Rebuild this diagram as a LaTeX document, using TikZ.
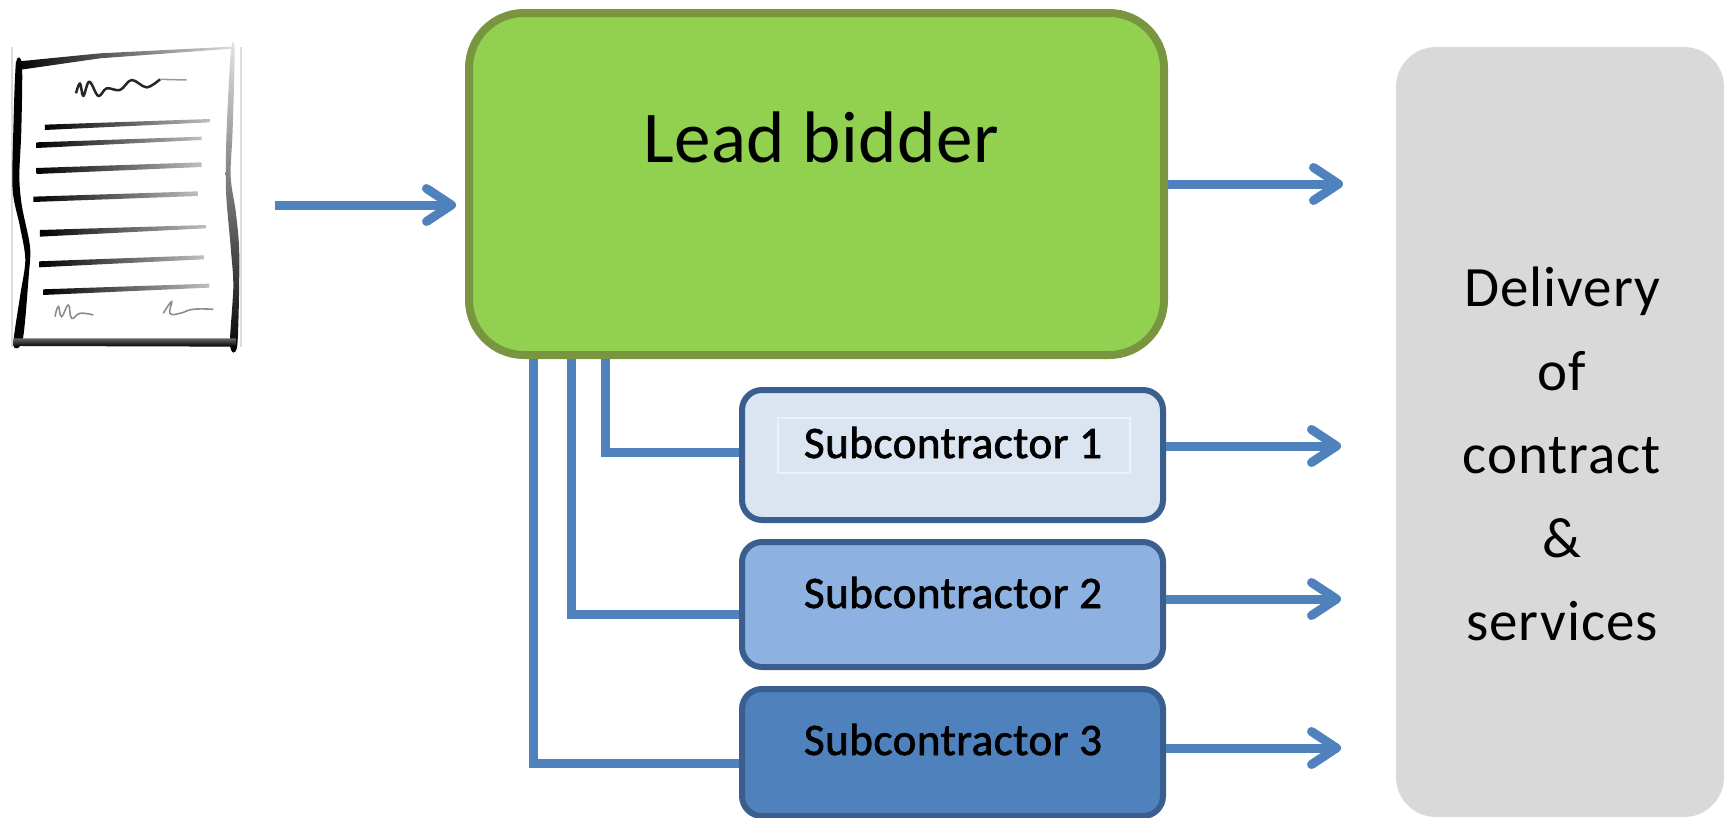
\documentclass[tikz,border=0pt]{standalone}
\usepackage{fontspec}
\setmainfont{Carlito}
\usetikzlibrary{arrows.meta}
\definecolor{arrowblue}{HTML}{4F81BD}
\definecolor{subedge}{HTML}{3A5F8F}
\definecolor{leadedge}{HTML}{7A9540}
\definecolor{leadfill}{HTML}{92D050}
\definecolor{greybox}{HTML}{D9D9D9}
\newfontfamily\subfont[FakeBold=1.6,LetterSpace=1.2]{Carlito}
\tikzset{
  x=1pt,y=-1pt,
  leadbox/.style={draw=leadedge,fill=leadfill,line width=8pt,rounded corners=55pt,minimum width=695pt,minimum height=342pt,inner sep=0pt},
  subbox/.style={draw=subedge,line width=6pt,rounded corners=20pt,minimum width=421pt,inner sep=0pt},
  delivbox/.style={fill=greybox,rounded corners=40pt,minimum width=328pt,minimum height=770pt,inner sep=0pt},
  subtext/.style={font=\fontsize{45}{45}\selectfont\subfont,anchor=base,inner sep=0pt},
  flow/.style={draw=arrowblue,line width=9pt,-{Straight Barb[length=25pt,width=33pt,line width=9pt,round=false]}},
  link/.style={draw=arrowblue,line width=9pt},
  inkfade/.style={left color=black,right color=black!25},
}
\begin{document}
\begin{tikzpicture}
\useasboundingbox (0,0) rectangle (1724,817);
% boxes
\node[delivbox] (deliv) at (1560,432) {};
\node[leadbox] (lead) at (816.5,184) {};
\node[subbox,fill={rgb,255:red,219;green,229;blue,241},minimum height=130pt] (sub1) at (952.5,455) {};
\node[subbox,fill={rgb,255:red,141;green,177;blue,225},minimum height=125pt] (sub2) at (952.5,604.5) {};
\node[subbox,fill=arrowblue,minimum height=127pt] (sub3) at (952.5,752.5) {};
\node[draw={rgb,255:red,234;green,241;blue,250},line width=2pt,minimum width=352pt,minimum height=55pt,inner sep=0pt] (frame1) at (954,445.5) {};
% texts
\node[anchor=base,inner sep=0pt,font=\fontsize{73}{73}\selectfont\addfontfeature{LetterSpace=0.8}] (leadtext) at (821,162) {Lead bidder};
\node[subtext] (sub1text) at (953,458) {Subcontractor 1};
\node[subtext] (sub2text) at (953,608) {Subcontractor 2};
\node[subtext] (sub3text) at (953,755) {Subcontractor 3};
\node[inner sep=0pt,align=center,font=\fontsize{57}{83.5}\selectfont\addfontfeature{LetterSpace=1.7}] (delivtext) at (1562,454) {Delivery\\of\\contract\\\&\\services};
% free ends
\coordinate (docout) at (275,205);
\coordinate (docin) at (456,205);
\coordinate (t0) at (1343,184);
\coordinate (t1) at (1341,446);
\coordinate (t2) at (1341,599);
\coordinate (t3) at (1341,748);
\coordinate (d1) at (605.5,452);
\coordinate (d2) at (571,614);
\coordinate (d3) at (533,763);
% connectors
\draw[flow] (docout) -- (docin);
\draw[flow] (lead.east |- t0) -- (t0);
\draw[flow] (sub1.east |- t1) -- (t1);
\draw[flow] (sub2.east |- t2) -- (t2);
\draw[flow] (sub3.east |- t3) -- (t3);
\draw[link] (lead.south -| d1) -- (d1) -- (sub1.west |- d1);
\draw[link] (lead.south -| d2) -- (d2) -- (sub2.west |- d2);
\draw[link] (lead.south -| d3) -- (d3) -- (sub3.west |- d3);
% document icon, in coordinates of 3x scale
\begin{scope}[shift={(0,30)},x=0.3333pt,y=-0.3333pt]
\draw[black!14,line width=2pt] (36,50) -- (36,950) (722,50) -- (722,950);
% outline
\shade[left color=black,right color=black!15] (48,95) -- (300,70) -- (695,50) -- (695,56) -- (300,85) -- (70,118) -- (48,118) -- cycle;
\fill[black] plot[smooth cycle,tension=0.5] coordinates {(48,100) (66,105) (64,300) (58,440) (66,530) (90,650) (86,740) (68,930) (40,945) (60,800) (76,690) (60,590) (38,480) (40,300)};
\shade[top color=black!10,middle color=black!70,bottom color=black] plot[smooth cycle,tension=0.5] coordinates {(693,60) (704,60) (698,300) (692,440) (708,550) (718,680) (712,945) (690,945) (700,770) (692,650) (678,480) (680,300)};
\shade[top color=black!60,bottom color=black] (40,925) -- (710,925) -- (708,950) -- (40,948) -- cycle;
% text lines
\shade[inkfade] (135,284) -- (630,267) -- (630,277) -- (135,300) -- cycle;
\shade[inkfade] (110,337) -- (605,320) -- (605,330) -- (110,354) -- cycle;
\shade[inkfade] (110,414) -- (605,397) -- (605,411) -- (110,432) -- cycle;
\shade[inkfade] (100,500) -- (595,484) -- (595,498) -- (100,516) -- cycle;
\shade[inkfade] (120,600) -- (620,585) -- (620,595) -- (120,620) -- cycle;
\shade[inkfade] (118,694) -- (612,676) -- (612,688) -- (118,712) -- cycle;
\shade[inkfade] (130,778) -- (628,761) -- (628,773) -- (130,795) -- cycle;
% scribbles
\draw[black!85,line width=2.5pt,line join=round] plot[smooth,tension=0.6] coordinates {(228,190) (240,160) (250,198) (268,155) (295,198) (320,175) (360,180) (395,150) (440,172) (480,148)};
\draw[black!40,line width=1.5pt] (480,148) -- (560,150);
\draw[black!45,line width=1.6pt] plot[smooth,tension=0.8] coordinates {(165,860) (175,830) (185,860) (205,825) (215,865) (240,850) (280,855)};
\draw[black!45,line width=1.6pt] plot[smooth,tension=0.8] coordinates {(490,850) (515,815) (510,850) (540,850) (580,838) (640,838)};
\end{scope}
\end{tikzpicture}
\end{document}
